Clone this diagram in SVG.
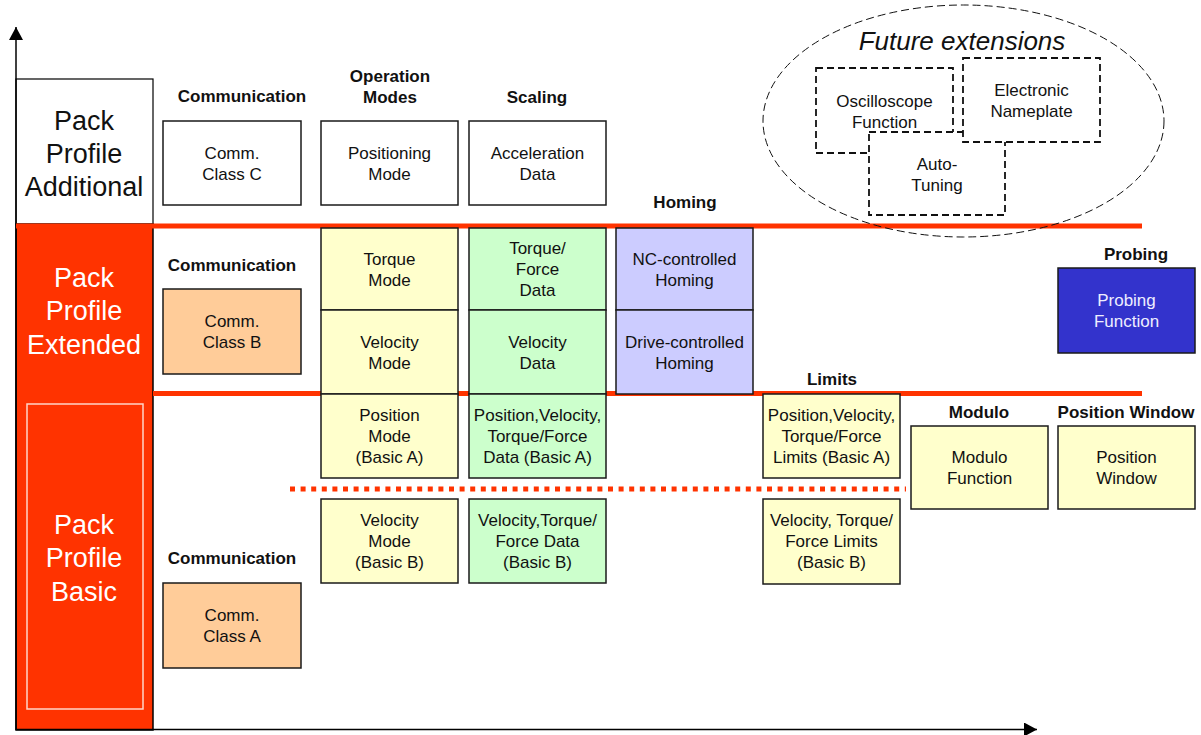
<svg xmlns="http://www.w3.org/2000/svg" width="1201" height="735" viewBox="0 0 1201 735">
  <defs>
    <style>
      text { font-family: "Liberation Sans", Arial, sans-serif; fill: #111; text-anchor: middle; }
      .bx { font-size: 17px; }
      .hd { font-size: 17px; font-weight: bold; }
      .pk { font-size: 27px; }
      .pkw { font-size: 27px; fill: #fff; }
      .box { stroke: #1a1a1a; stroke-width: 1.5; }
      .white { fill: #ffffff; }
      .yel { fill: #ffffcc; }
      .grn { fill: #ccffcc; }
      .blu { fill: #ccccff; }
      .pea { fill: #ffcc99; }
      .dash { fill: #ffffff; stroke: #111; stroke-width: 1.8; stroke-dasharray: 7 4; }
      .band { stroke: #ff3300; stroke-width: 5; }
      .axis { stroke: #000; stroke-width: 1.5; fill: none; }
    </style>
    <marker id="arrow" markerWidth="14" markerHeight="14" refX="13" refY="7" orient="auto" markerUnits="userSpaceOnUse">
      <path d="M0,0 L13,7 L0,14 Z" fill="#000"/>
    </marker>
  </defs>

  <!-- profile columns on the left -->
  <g id="profile-additional">
    <rect x="16" y="79" width="137" height="146" fill="#fff" stroke="#000" stroke-width="1.2"/>
    <text class="pk" x="84" y="130">Pack</text>
    <text class="pk" x="84" y="163">Profile</text>
    <text class="pk" x="84" y="196">Additional</text>
  </g>
  <g id="profile-extended-basic">
    <rect x="16" y="224" width="137" height="506" fill="#ff3300" stroke="#000" stroke-width="1.5"/>
    <rect x="27" y="404" width="116" height="305" fill="none" stroke="#ffd6c8" stroke-width="1.5"/>
    <text class="pkw" x="84" y="287">Pack</text>
    <text class="pkw" x="84" y="320">Profile</text>
    <text class="pkw" x="84" y="354">Extended</text>
    <text class="pkw" x="84" y="534">Pack</text>
    <text class="pkw" x="84" y="567">Profile</text>
    <text class="pkw" x="84" y="601">Basic</text>
  </g>

  <!-- axes and level separators -->
  <g id="connectors">
    <line class="axis" x1="16" y1="730" x2="16" y2="27" marker-end="url(#arrow)"/>
    <line class="axis" x1="16" y1="729.5" x2="1037" y2="729.5" marker-end="url(#arrow)"/>
    <line class="band" x1="16" y1="226" x2="1142" y2="226"/>
    <line class="band" x1="153" y1="393.5" x2="1142" y2="393.5"/>
    <line class="band" x1="290" y1="489" x2="906" y2="489" stroke-width="5.5" stroke-dasharray="5 5.6"/>
  </g>

  <!-- column headings -->
  <g id="headings">
    <text class="hd" x="242" y="102">Communication</text>
    <text class="hd" x="390" y="82">Operation</text>
    <text class="hd" x="390" y="103">Modes</text>
    <text class="hd" x="537" y="103">Scaling</text>
    <text class="hd" x="685" y="208">Homing</text>
    <text class="hd" x="232" y="271">Communication</text>
    <text class="hd" x="1136" y="260">Probing</text>
    <text class="hd" x="832" y="385">Limits</text>
    <text class="hd" x="979" y="418">Modulo</text>
    <text class="hd" x="1126" y="418">Position Window</text>
    <text class="hd" x="232" y="564">Communication</text>
  </g>

  <!-- communication classes -->
  <g id="comm-class-c">
    <rect class="box white" x="163" y="121" width="138" height="84"/>
    <text class="bx" x="232" y="158.5">Comm.</text>
    <text class="bx" x="232" y="179.5">Class C</text>
  </g>
  <g id="comm-class-b">
    <rect class="box pea" x="163" y="289" width="138" height="85"/>
    <text class="bx" x="232" y="327">Comm.</text>
    <text class="bx" x="232" y="348">Class B</text>
  </g>
  <g id="comm-class-a">
    <rect class="box pea" x="163" y="583" width="138" height="85"/>
    <text class="bx" x="232" y="621">Comm.</text>
    <text class="bx" x="232" y="642">Class A</text>
  </g>

  <!-- operation modes -->
  <g id="positioning-mode">
    <rect class="box white" x="321" y="121" width="137" height="84"/>
    <text class="bx" x="389.5" y="158.5">Positioning</text>
    <text class="bx" x="389.5" y="179.5">Mode</text>
  </g>
  <g id="torque-mode">
    <rect class="box yel" x="321" y="228" width="137" height="82"/>
    <text class="bx" x="389.5" y="264.5">Torque</text>
    <text class="bx" x="389.5" y="285.5">Mode</text>
  </g>
  <g id="velocity-mode">
    <rect class="box yel" x="321" y="310" width="137" height="84"/>
    <text class="bx" x="389.5" y="347.5">Velocity</text>
    <text class="bx" x="389.5" y="368.5">Mode</text>
  </g>
  <g id="position-mode-a">
    <rect class="box yel" x="321" y="394" width="137" height="84"/>
    <text class="bx" x="389.5" y="421">Position</text>
    <text class="bx" x="389.5" y="442">Mode</text>
    <text class="bx" x="389.5" y="463">(Basic A)</text>
  </g>
  <g id="velocity-mode-b">
    <rect class="box yel" x="321" y="499" width="137" height="84"/>
    <text class="bx" x="389.5" y="526">Velocity</text>
    <text class="bx" x="389.5" y="547">Mode</text>
    <text class="bx" x="389.5" y="568">(Basic B)</text>
  </g>

  <!-- scaling -->
  <g id="acceleration-data">
    <rect class="box white" x="469" y="121" width="137" height="84"/>
    <text class="bx" x="537.5" y="158.5">Acceleration</text>
    <text class="bx" x="537.5" y="179.5">Data</text>
  </g>
  <g id="torque-force-data">
    <rect class="box grn" x="469" y="228" width="137" height="82"/>
    <text class="bx" x="537.5" y="254">Torque/</text>
    <text class="bx" x="537.5" y="275">Force</text>
    <text class="bx" x="537.5" y="296">Data</text>
  </g>
  <g id="velocity-data">
    <rect class="box grn" x="469" y="310" width="137" height="84"/>
    <text class="bx" x="537.5" y="347.5">Velocity</text>
    <text class="bx" x="537.5" y="368.5">Data</text>
  </g>
  <g id="data-basic-a">
    <rect class="box grn" x="469" y="394" width="137" height="84"/>
    <text class="bx" x="537.5" y="421">Position,Velocity,</text>
    <text class="bx" x="537.5" y="442">Torque/Force</text>
    <text class="bx" x="537.5" y="463">Data (Basic A)</text>
  </g>
  <g id="data-basic-b">
    <rect class="box grn" x="469" y="499" width="137" height="84"/>
    <text class="bx" x="537.5" y="526">Velocity,Torque/</text>
    <text class="bx" x="537.5" y="547">Force Data</text>
    <text class="bx" x="537.5" y="568">(Basic B)</text>
  </g>

  <!-- homing -->
  <g id="nc-homing">
    <rect class="box blu" x="616" y="228" width="137" height="82"/>
    <text class="bx" x="684.5" y="264.5">NC-controlled</text>
    <text class="bx" x="684.5" y="285.5">Homing</text>
  </g>
  <g id="drive-homing">
    <rect class="box blu" x="616" y="310" width="137" height="84"/>
    <text class="bx" x="684.5" y="347.5">Drive-controlled</text>
    <text class="bx" x="684.5" y="368.5">Homing</text>
  </g>

  <!-- limits -->
  <g id="limits-basic-a">
    <rect class="box yel" x="763" y="394" width="137" height="84"/>
    <text class="bx" x="831.5" y="421">Position,Velocity,</text>
    <text class="bx" x="831.5" y="442">Torque/Force</text>
    <text class="bx" x="831.5" y="463">Limits (Basic A)</text>
  </g>
  <g id="limits-basic-b">
    <rect class="box yel" x="763" y="499" width="137" height="85"/>
    <text class="bx" x="831.5" y="526">Velocity, Torque/</text>
    <text class="bx" x="831.5" y="547">Force Limits</text>
    <text class="bx" x="831.5" y="568">(Basic B)</text>
  </g>

  <!-- modulo, position window, probing -->
  <g id="modulo-function">
    <rect class="box yel" x="911" y="426" width="137" height="83"/>
    <text class="bx" x="979.5" y="463">Modulo</text>
    <text class="bx" x="979.5" y="484">Function</text>
  </g>
  <g id="position-window">
    <rect class="box yel" x="1058" y="426" width="137" height="83"/>
    <text class="bx" x="1126.5" y="463">Position</text>
    <text class="bx" x="1126.5" y="484">Window</text>
  </g>
  <g id="probing-function">
    <rect class="box" x="1058" y="268" width="137" height="85" fill="#3333cc"/>
    <text class="bx" x="1126.5" y="306" style="fill:#eeeeff">Probing</text>
    <text class="bx" x="1126.5" y="327" style="fill:#eeeeff">Function</text>
  </g>

  <!-- future extensions -->
  <g id="future-extensions">
    <ellipse cx="963.5" cy="121" rx="200.5" ry="116" fill="none" stroke="#111" stroke-width="1" stroke-dasharray="8 4"/>
    <text x="962" y="50" style="font-size:26px; font-style:italic">Future extensions</text>
  </g>
  <g id="oscilloscope-function">
    <rect class="dash" x="816" y="68" width="137" height="85"/>
    <text class="bx" x="884.5" y="106.5">Oscilloscope</text>
    <text class="bx" x="884.5" y="127.5">Function</text>
  </g>
  <g id="auto-tuning">
    <rect class="dash" x="869" y="132" width="136" height="83"/>
    <text class="bx" x="937" y="169.5">Auto-</text>
    <text class="bx" x="937" y="190.5">Tuning</text>
  </g>
  <g id="electronic-nameplate">
    <rect class="dash" x="963" y="58" width="137" height="84"/>
    <text class="bx" x="1031.5" y="95.5">Electronic</text>
    <text class="bx" x="1031.5" y="116.5">Nameplate</text>
  </g>
</svg>
